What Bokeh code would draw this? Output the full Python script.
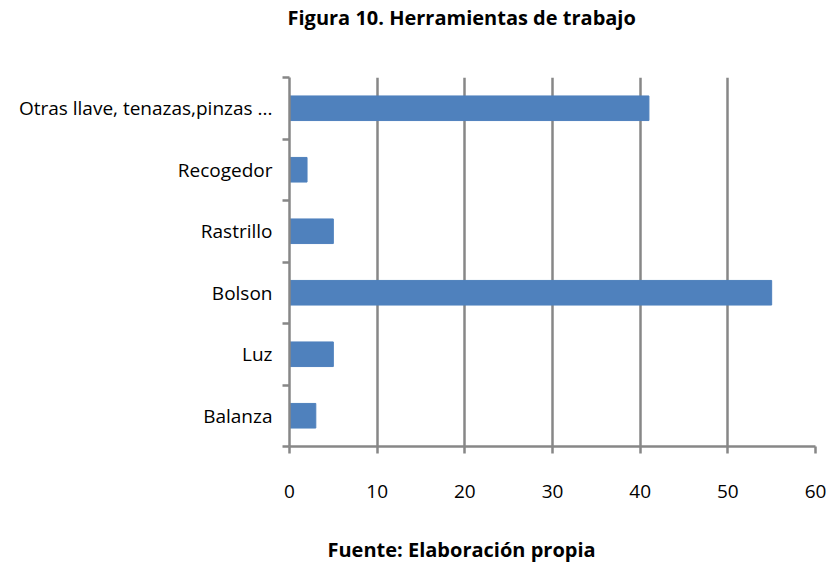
from bokeh.plotting import figure
from bokeh.models import Range1d, FixedTicker, Title, LinearAxis
from bokeh.embed import file_html
from bokeh.resources import INLINE

categories = ["Balanza", "Luz", "Bolson", "Rastrillo", "Recogedor", "Otras llave, tenazas,pinzas ..."]
values = [3, 5, 55, 5, 2, 41]
x_ticks = [0, 10, 20, 30, 40, 50, 60]
title_text = "Figura 10. Herramientas de trabajo"
source_text = "Fuente: Elaboración propia"

FONT = "Open Sans"
GRAY = "#878787"
BAR = "#4F81BD"

centers = [i + 0.5 for i in range(len(categories))]
bounds = list(range(len(categories) + 1))

p = figure(width=830, height=565, output_backend="svg", toolbar_location=None,
           x_range=Range1d(0, 60), y_range=Range1d(0, len(categories)),
           min_border_left=289, min_border_right=15, min_border_top=77, min_border_bottom=119)
p.outline_line_color = None
p.background_fill_color = "white"

p.hbar(y=centers, right=values, left=0, height=0.4, color=BAR, line_color=BAR)

# x axis
xa = p.xaxis[0]
xa.ticker = FixedTicker(ticks=x_ticks)
xa.axis_line_color = GRAY
xa.axis_line_width = 2.5
xa.major_tick_line_color = GRAY
xa.major_tick_line_width = 2.5
xa.major_tick_in = 0
xa.major_tick_out = 7
xa.minor_tick_line_color = None
xa.major_label_text_font = FONT
xa.major_label_text_font_size = "19px"
xa.major_label_text_color = "black"
xa.major_label_standoff = 31

# y axis
ya = p.yaxis[0]
ya.ticker = FixedTicker(ticks=centers, minor_ticks=bounds)
ya.major_label_overrides = {c: lab for c, lab in zip(centers, categories)}
ya.axis_line_color = GRAY
ya.axis_line_width = 2.5
ya.major_tick_line_color = None
ya.minor_tick_line_color = GRAY
ya.minor_tick_line_width = 2.5
ya.minor_tick_in = 0
ya.minor_tick_out = 7
ya.major_label_text_font = FONT
ya.major_label_text_font_size = "19px"
ya.major_label_text_color = "black"
ya.major_label_standoff = 10

p.ygrid.grid_line_color = None
p.xgrid.ticker = FixedTicker(ticks=x_ticks[1:])
p.xgrid.grid_line_color = GRAY
p.xgrid.grid_line_width = 2.5


def spacer(size):
    # an axis with one white tick at the right edge and no label, used only to reserve empty space
    edge = x_ticks[-1]
    return LinearAxis(ticker=FixedTicker(ticks=[edge]), axis_line_color=None,
                      major_tick_line_color="white", minor_tick_line_color=None,
                      major_tick_in=0, major_tick_out=size, minor_tick_in=0, minor_tick_out=0,
                      major_label_standoff=0, major_label_text_font_size="0px",
                      major_label_overrides={edge: ""})


p.add_layout(spacer(47), "above")
p.add_layout(spacer(33), "below")

p.title.text = title_text
p.title.align = "left"
p.title.offset = -2
p.title.standoff = 0
p.title.text_font = FONT
p.title.text_font_size = "20px"
p.title.text_font_style = "bold"
p.title.text_color = "black"

p.add_layout(Title(text=source_text, align="left", offset=38, standoff=0, text_font=FONT,
                   text_font_size="20px", text_font_style="bold", text_color="black"), "below")

open("out.html", "w").write(file_html(p, INLINE))
